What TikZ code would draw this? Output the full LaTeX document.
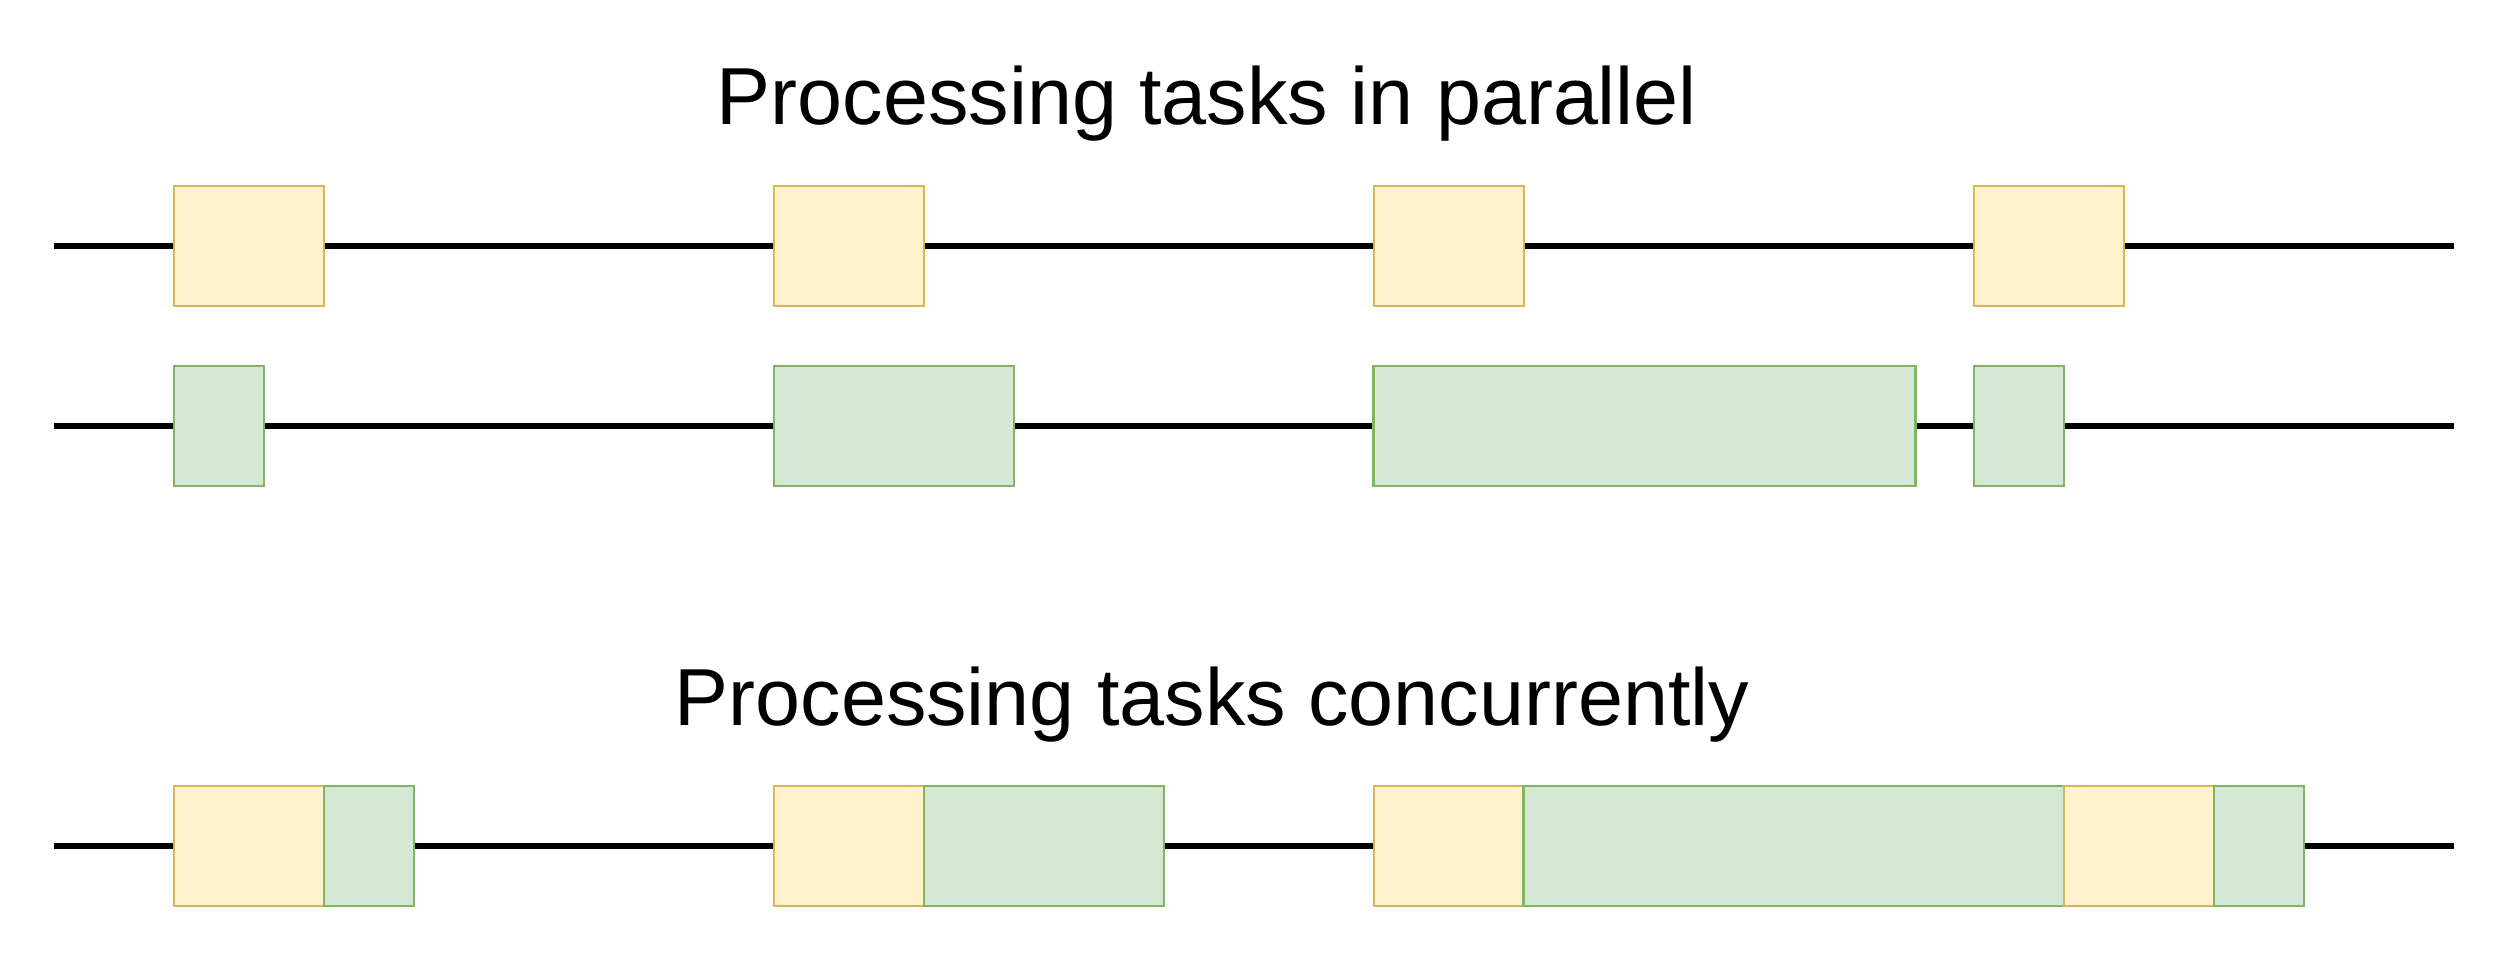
\documentclass[tikz,border=0pt]{standalone}
\usepackage{fontspec}
\setmainfont{Liberation Sans}
\definecolor{ioFill}{HTML}{FFF2CC}
\definecolor{ioLine}{HTML}{D6B656}
\definecolor{cpuFill}{HTML}{D5E8D4}
\definecolor{cpuLine}{HTML}{82B366}
\begin{document}
\begin{tikzpicture}[x=0.01cm, y=-0.01cm,
	io/.style={draw=ioLine, fill=ioFill, line width=0.8pt, inner sep=0pt,
		minimum width=1.5cm, minimum height=1.2cm},
	cpu/.style={draw=cpuLine, fill=cpuFill, line width=0.8pt, inner sep=0pt,
		minimum height=1.2cm},
	track/.style={line width=1.7pt},
	title/.style={anchor=base, font=\fontsize{23}{28}\selectfont}]
	\useasboundingbox (0,0) rectangle (2509,958);

	\node [title] (tpar) at (1207,125) {Processing tasks in parallel};
	\node [title] (tcon) at (1212,725) {Processing tasks concurrently};

	% parallel: first worker
	\node [io] (p1) at (249,246) {};
	\node [io] (p2) at (849,246) {};
	\node [io] (p3) at (1449,246) {};
	\node [io] (p4) at (2049,246) {};
	\coordinate (p0) at (54,246);
	\coordinate (p5) at (2454,246);
	\draw[track] (p0) -- (p1.west) (p1.east) -- (p2.west) (p2.east) -- (p3.west)
		(p3.east) -- (p4.west) (p4.east) -- (p5);

	% parallel: second worker
	\node [cpu, minimum width=0.9cm] (q1) at (219,426) {};
	\node [cpu, minimum width=2.4cm] (q2) at (894,426) {};
	\node [cpu, minimum width=5.41cm] (q3) at (1644.5,426) {};
	\node [cpu, minimum width=0.9cm] (q4) at (2019,426) {};
	\coordinate (q0) at (54,426);
	\coordinate (q5) at (2454,426);
	\draw[track] (q0) -- (q1.west) (q1.east) -- (q2.west) (q2.east) -- (q3.west)
		(q3.east) -- (q4.west) (q4.east) -- (q5);

	% concurrent: one worker
	\node [io] (c1a) at (249,846) {};
	\node [cpu, minimum width=0.9cm] (c1b) at (369,846) {};
	\node [io] (c2a) at (849,846) {};
	\node [cpu, minimum width=2.4cm] (c2b) at (1044,846) {};
	\node [io] (c3a) at (1449,846) {};
	\node [cpu, minimum width=5.4cm] (c3b) at (1794,846) {};
	\node [io] (c3c) at (2139,846) {};
	\node [cpu, minimum width=0.9cm] (c3d) at (2259,846) {};
	\coordinate (c0) at (54,846);
	\coordinate (c4) at (2454,846);
	\draw[track] (c0) -- (c1a.west) (c1b.east) -- (c2a.west) (c2b.east) -- (c3a.west)
		(c3d.east) -- (c4);
\end{tikzpicture}
\end{document}
